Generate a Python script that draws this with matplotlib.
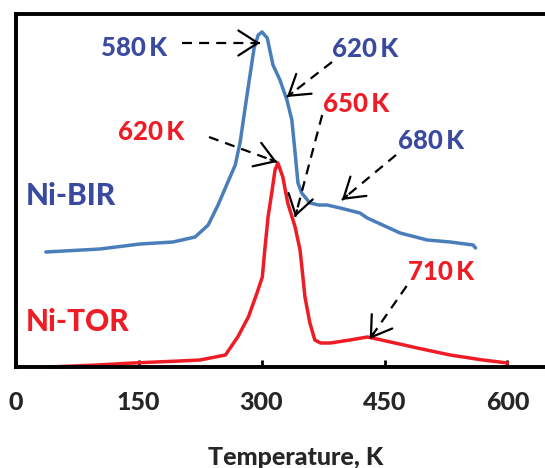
import matplotlib
matplotlib.use("Agg")
import matplotlib.pyplot as plt

# ---- data ----
bir_T = [37, 103, 152, 192, 219, 235, 247, 259, 268, 274, 280, 286, 291, 296, 300.6, 307,
         314, 322.5, 331, 337, 341, 344.5, 349, 359, 370, 380, 396, 420, 429, 469, 502, 530, 558, 561]
bir_S = [115, 118, 123, 125, 130, 142, 162, 185, 202, 225, 259, 292, 319, 332, 335, 329,
         302, 287, 267, 247, 214, 184, 174, 164, 162, 162, 159, 154, 149, 134, 127, 125, 122, 119]

tor_T = [42, 100, 143, 200, 225, 256, 271, 284, 294.5, 301, 304, 308, 313, 316.5, 320, 326,
         332, 341, 347, 350.5, 353, 359, 365, 372, 384, 408, 429, 441, 490, 530, 570, 600]
tor_S = [0, 2, 4, 6, 7, 12, 30, 50, 74, 90, 117, 150, 177, 197, 204, 190,
         164, 140, 117, 90, 70, 44, 27, 24, 24, 27, 30, 28, 19, 12, 7, 4]

x_ticks = [0, 150, 300, 450, 600]

# annotations: label, colour key, text centre, arrow tail, arrow head (data coords)
annotations = [
    ("580\u2009K", "b", (145, 319), (203, 324), (298, 324)),
    ("620\u2009K", "b", (426, 318), (386, 305), (331, 270)),
    ("650\u2009K", "r", (415, 263), (374, 252), (341, 150)),
    ("620\u2009K", "r", (165, 235), (236, 230), (319, 205)),
    ("680\u2009K", "b", (507, 226), (464, 212), (398, 167)),
    ("710\u2009K", "r", (519, 95), (477, 81), (432, 28)),
]

BLUE_LINE = "#4a7ebb"
BLUE_TEXT = "#3a4a9f"
RED = "#ee1c25"
colors = {"b": BLUE_TEXT, "r": RED}
WEIGHT = "black"

plt.rcParams["font.family"] = ["Lato", "DejaVu Sans"]
plt.rcParams["font.weight"] = WEIGHT

fig = plt.figure(figsize=(5.45, 4.68), dpi=100)
W, H = 545, 468
x0, y0, ytop = 15.5, 367, 14
pxu = 0.82
xmax = 700
ax = fig.add_axes([x0 / W, (H - y0) / H, xmax * pxu / W, (y0 - ytop) / H])
ax.set_xlim(0, xmax)
ax.set_ylim(0, y0 - ytop)

ax.plot(bir_T, bir_S, color=BLUE_LINE, lw=2.5, solid_capstyle="round", solid_joinstyle="round", clip_on=False)
ax.plot(tor_T, tor_S, color=RED, lw=2.5, solid_capstyle="round", solid_joinstyle="round", clip_on=False)

for lab, c, tpos, tail, head in annotations:
    ax.text(tpos[0], tpos[1], lab, color=colors[c], fontsize=18.5, fontweight=WEIGHT,
            ha="center", va="center")
    ax.plot([tail[0], head[0]], [tail[1], head[1]], color="black", lw=1.6,
            dashes=(4.5, 3.2))
    # solid arrow head
    dx, dy = head[0] - tail[0], head[1] - tail[1]
    dxp, dyp = dx * pxu, dy
    L = (dxp ** 2 + dyp ** 2) ** 0.5
    back = 7.0
    sx = head[0] - dxp / L * back / pxu
    sy = head[1] - dyp / L * back
    ax.annotate("", xy=head, xytext=(sx, sy),
                arrowprops=dict(arrowstyle="->,head_length=0.7,head_width=0.45",
                                color="black", lw=1.6, shrinkA=0, shrinkB=0,
                                mutation_scale=20))

ax.text(12, 171, "Ni-BIR", color=BLUE_TEXT, fontsize=21.5, fontweight=WEIGHT, ha="left", va="center")
ax.text(12, 45, "Ni-TOR", color=RED, fontsize=21.5, fontweight=WEIGHT, ha="left", va="center")

for s in ax.spines.values():
    s.set_linewidth(2.8)
    s.set_color("black")
ax.set_xticks(x_ticks)
ax.set_xticklabels([str(v) for v in x_ticks], fontweight=WEIGHT)
ax.tick_params(axis="x", direction="in", length=5, width=2, pad=17, labelsize=18,
               labelcolor="#262626", color="black")
ax.set_yticks([])

fig.text(296 / W, (H - 465) / H, "Temperature, K", ha="center", va="baseline",
         fontsize=18, fontweight=WEIGHT, color="#262626")

fig.savefig("out.png", dpi=100)
